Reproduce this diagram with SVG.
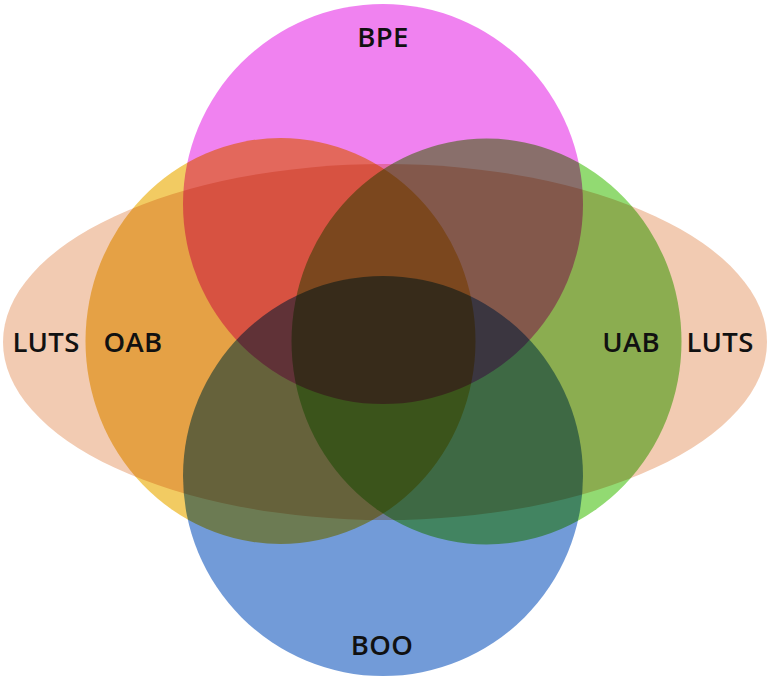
<svg xmlns="http://www.w3.org/2000/svg" width="769" height="683" viewBox="0 0 769 683">
<style>
.s{mix-blend-mode:multiply}
.t{font-family:"Open Sans","Liberation Sans",sans-serif;font-weight:600;font-size:27.5px;fill:#111;text-anchor:middle;letter-spacing:0.3px}
</style>
<rect width="769" height="683" fill="#fff"/>
<g id="diagram" style="isolation:isolate">
<rect width="769" height="683" fill="#fff"/>
<g id="LUTS"><ellipse class="s" cx="385" cy="342" rx="382" ry="178" fill="#F2CBB2"/></g>
<g id="OAB"><ellipse class="s" cx="280.5" cy="341" rx="195" ry="203" fill="#F2CB62"/></g>
<g id="UAB"><ellipse class="s" cx="486.5" cy="341.5" rx="195" ry="203" fill="#92DA72"/></g>
<g id="BPE"><circle class="s" cx="383" cy="204" r="200" fill="#F082F0"/></g>
<g id="BOO"><circle class="s" cx="383" cy="476" r="200" fill="#729BD8"/></g>
</g>
<g id="connectors"></g>
<g id="labels">
<text class="t" x="383" y="47">BPE</text>
<text class="t" x="382" y="655">BOO</text>
<text class="t" x="46" y="352">LUTS</text>
<text class="t" x="133" y="352">OAB</text>
<text class="t" x="631" y="352">UAB</text>
<text class="t" x="720" y="352">LUTS</text>
</g>
</svg>
